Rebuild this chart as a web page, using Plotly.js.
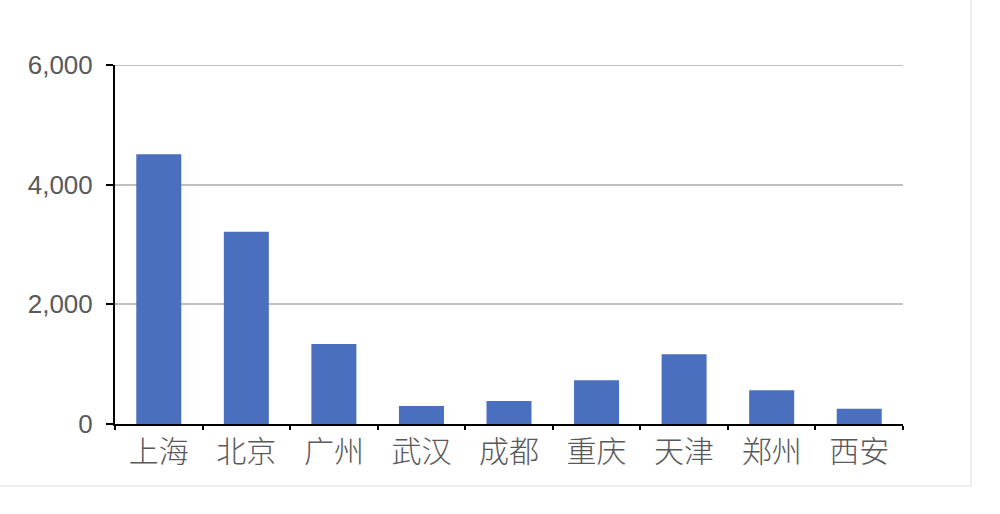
<!DOCTYPE html>
<html>
<head>
<meta charset="utf-8">
<script src="https://cdn.plot.ly/plotly-3.0.1.min.js"></script>
<style>
html,body{margin:0;padding:0;background:#ffffff;}
#wrap{position:absolute;left:0;top:0;width:970px;height:485px;border-right:2px solid #eeeeee;border-bottom:2px solid #eeeeee;background:#fff;}
#chart{width:970px;height:485px;}
</style>
</head>
<body>
<div id="wrap"><div id="chart"></div></div>
<script>
const cities = ["上海","北京","广州","武汉","成都","重庆","天津","郑州","西安"];
const values = [4510, 3215, 1335, 300, 385, 730, 1165, 565, 255];
const yTicks = [0, 2000, 4000, 6000];
const yTickLabels = ["0", "2,000", "4,000", "6,000"];
const yMax = yTicks[yTicks.length - 1];

Plotly.newPlot("chart", [{
  type: "bar",
  x: cities,
  y: values,
  marker: {color: "#4a6fbe"},
  hoverinfo: "x+y"
}], {
  width: 970, height: 485,
  margin: {l: 115, r: 67, t: 65, b: 61},
  paper_bgcolor: "#ffffff",
  plot_bgcolor: "#ffffff",
  bargap: 0.486,
  showlegend: false,
  shapes: [{
    type: "line", xref: "paper", yref: "y", x0: 0, x1: 1, y0: yMax, y1: yMax,
    line: {color: "#c0c0c0", width: 2}, layer: "below"
  }],
  xaxis: {
    type: "category",
    showline: true, linecolor: "#000000", linewidth: 2,
    ticks: "outside", tickson: "boundaries", ticklen: 4, tickcolor: "#000000", tickwidth: 2,
    showgrid: false,
    tickfont: {family: "Noto Sans CJK SC", size: 30, weight: 300, color: "#595959"},
    ticklabelstandoff: 0,
    fixedrange: true
  },
  yaxis: {
    range: [0, yMax],
    tickvals: yTicks, ticktext: yTickLabels,
    showline: true, linecolor: "#000000", linewidth: 2,
    ticks: "outside", ticklen: 7, tickcolor: "#000000", tickwidth: 2,
    showgrid: true, gridcolor: "#c0c0c0", gridwidth: 2,
    zeroline: false,
    tickfont: {family: "Liberation Sans, Arial, sans-serif", size: 26, color: "#595959"},
    ticklabelstandoff: 8,
    fixedrange: true
  }
}, {displayModeBar: false, staticPlot: true});
</script>
</body>
</html>
